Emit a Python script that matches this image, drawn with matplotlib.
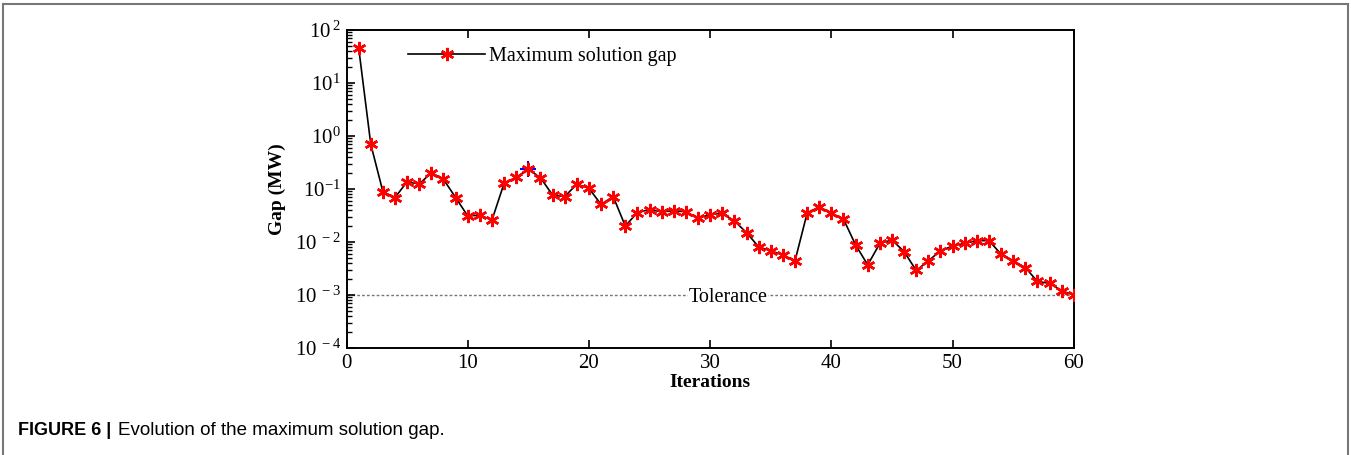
import matplotlib
matplotlib.use("Agg")
import matplotlib.pyplot as plt
from matplotlib.lines import Line2D
from matplotlib.ticker import FixedLocator, LogLocator, NullFormatter, FixedFormatter

plt.rcParams['font.family'] = ['Liberation Serif', 'DejaVu Serif']
plt.rcParams['mathtext.fontset'] = 'custom'
plt.rcParams['mathtext.rm'] = 'Liberation Serif'

# maximum solution gap per iteration (MW)
iterations = list(range(1, 61))
gap = [46.4, 0.70, 0.089, 0.069, 0.137, 0.124, 0.203, 0.152, 0.069, 0.031,
       0.032, 0.026, 0.128, 0.166, 0.236, 0.163, 0.077, 0.072, 0.123, 0.103,
       0.051, 0.072, 0.020, 0.036, 0.041, 0.037, 0.039, 0.037, 0.028, 0.033,
       0.035, 0.025, 0.015, 0.0081, 0.0068, 0.0057, 0.0044, 0.035, 0.046, 0.035,
       0.027, 0.0088, 0.0037, 0.0094, 0.0109, 0.0066, 0.0029, 0.0044, 0.0068, 0.0084,
       0.0094, 0.0106, 0.0106, 0.0059, 0.0044, 0.0033, 0.0018, 0.00166, 0.0012, 0.0010]
tolerance = 1e-3
highlight_iter = 15

y_ticks = [1e-4, 1e-3, 1e-2, 1e-1, 1e0, 1e1, 1e2]
y_tick_labels = [r'$\mathregular{10^{\,-4}}$', r'$\mathregular{10^{\,-3}}$', r'$\mathregular{10^{\,-2}}$',
                 r'$\mathregular{10^{-1}}$', r'$\mathregular{10^{0}}$', r'$\mathregular{10^{1}}$',
                 r'$\mathregular{10^{\,2}}$']
x_ticks = [0, 10, 20, 30, 40, 50, 60]

fig = plt.figure(figsize=(13.51, 4.55), dpi=100)
ax = fig.add_axes([0.2565, 0.2352, 0.5383, 0.6989])

ax.set_yscale('log')
ax.set_xlim(0, 60)
ax.set_ylim(1e-4, 1e2)

# tolerance line with its label sitting on it
ax.axhline(tolerance, color='#777777', linestyle=(0, (2, 1.5)), linewidth=1.0, zorder=1)
ax.text(31.5, tolerance, 'Tolerance', ha='center', va='center_baseline', fontsize=14.5,
        bbox=dict(facecolor='white', edgecolor='none', pad=0.5), zorder=2)

hi = iterations.index(highlight_iter)
ax.plot(iterations[hi], gap[hi], marker='+', color='blue', markersize=12,
        markeredgewidth=1.5, linestyle='none', zorder=3)
ax.plot(iterations, gap, color='black', linewidth=1.2, marker=(6, 2, 0),
        markersize=9.5, markeredgecolor='red', markeredgewidth=1.8,
        label='Maximum solution gap', zorder=4)

ax.yaxis.set_major_locator(FixedLocator(y_ticks))
ax.yaxis.set_major_formatter(FixedFormatter(y_tick_labels))
ax.yaxis.set_minor_locator(LogLocator(base=10, subs=range(2, 10), numticks=20))
ax.yaxis.set_minor_formatter(NullFormatter())
ax.xaxis.set_major_locator(FixedLocator(x_ticks))
ax.set_xticklabels([str(t) for t in x_ticks])

ax.tick_params(axis='both', which='major', direction='in', length=6, width=1.2,
               labelsize=15, top=True, right=False, pad=4)
ax.tick_params(axis='y', which='minor', direction='in', length=3.5, width=1.0, right=False)
ax.tick_params(axis='x', which='minor', bottom=False, top=False)
for s in ax.spines.values():
    s.set_linewidth(1.4)

ax.set_xlabel('Iterations', fontsize=14, fontweight='bold', labelpad=1)
ax.set_ylabel('Gap (MW)', fontsize=14, fontweight='bold', labelpad=6)

ax.legend(loc='upper left', bbox_to_anchor=(0.06, 1.005), frameon=False,
          fontsize=14.5, handlelength=3.8, numpoints=1, handletextpad=0.2)

# caption and outer frame
fig.text(0.0135, 0.045, 'FIGURE 6 |', fontsize=13, fontweight='bold',
         family=['Liberation Sans', 'DejaVu Sans'], va='baseline')
fig.text(0.0135 + 0.0735, 0.045, 'Evolution of the maximum solution gap.', fontsize=13.5,
         family=['Liberation Sans Narrow', 'Liberation Sans', 'DejaVu Sans'], va='baseline')

frame_kw = dict(color='#777777', linewidth=1.5, transform=fig.transFigure)
fig.add_artist(Line2D([0.0025, 0.0025], [0.0, 0.991], **frame_kw))
fig.add_artist(Line2D([0.0025, 0.9975], [0.991, 0.991], **frame_kw))
fig.add_artist(Line2D([0.9975, 0.9975], [0.0, 0.991], **frame_kw))

fig.savefig('out.png', dpi=100)
